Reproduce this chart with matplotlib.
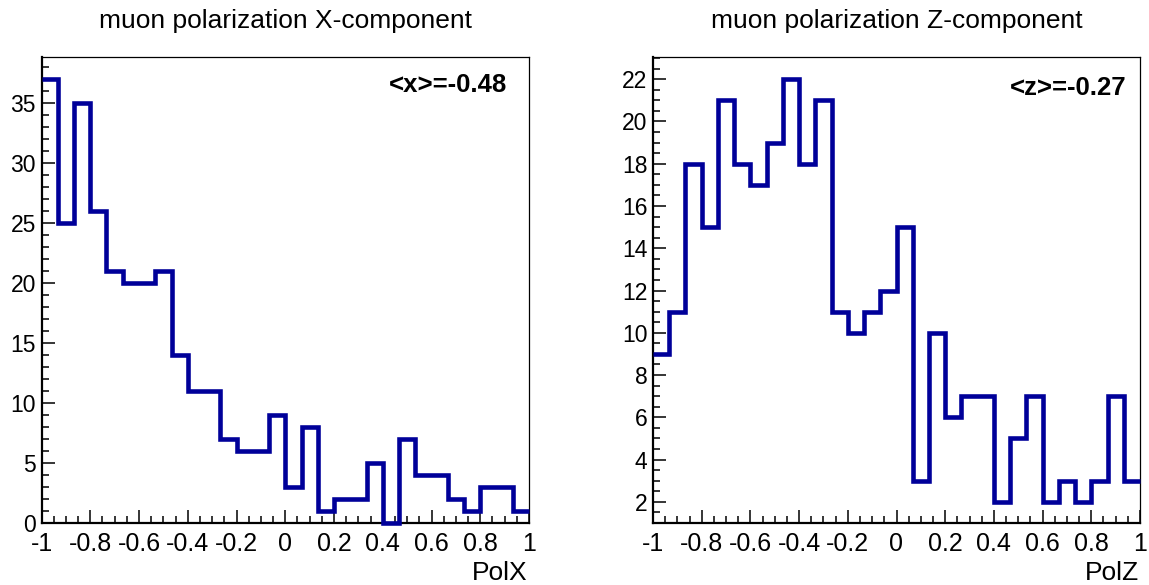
import numpy as np
import matplotlib
matplotlib.use("Agg")
import matplotlib.pyplot as plt
from matplotlib.ticker import MultipleLocator, FuncFormatter


# Histogram contents (30 bins from -1 to 1)
polx_counts = [37, 25, 35, 26, 21, 20, 20, 21, 14, 11, 11, 7, 6, 6, 9,
               3, 8, 1, 2, 2, 5, 0, 7, 4, 4, 2, 1, 3, 3, 1]
polz_counts = [9, 11, 18, 15, 21, 18, 17, 19, 22, 18, 21, 11, 10, 11, 12,
               15, 3, 10, 6, 7, 7, 2, 5, 7, 2, 3, 2, 3, 7, 3]
bin_edges = np.linspace(-1, 1, 31)

titles = ["muon polarization X-component", "muon polarization Z-component"]
axis_labels = ["PolX", "PolZ"]
stat_labels = ["<x>=-0.48", "<z>=-0.27"]


plt.rcParams['font.family'] = ['Liberation Sans', 'DejaVu Sans']
plt.rcParams['axes.unicode_minus'] = False

line_color = '#000099'


def fmt(v, pos):
    v = round(v, 3)
    if abs(v) < 1e-9:
        return "0"
    return f"{v:g}"


fig = plt.figure(figsize=(11.49, 5.85), dpi=100)
W, H = 1149, 585

# axes frames in pixel coords: left, right, top, bottom
frames = [(41.5, 529, 57, 523), (653, 1140, 57, 523)]
ylims = [(0, 38.85), (1, 23.05)]
ymajor = [5, 2]
yminor = [1, 0.5]
stat_pos = [(0.955, 0.94), (0.973, 0.933)]

for i, counts in enumerate([polx_counts, polz_counts]):
    l, r, t, b = frames[i]
    ax = fig.add_axes([l / W, (H - b) / H, (r - l) / W, (b - t) / H])

    ax.stairs(counts, bin_edges, baseline=None, color=line_color,
              linewidth=3.3, clip_on=False, zorder=3)

    ax.set_xlim(-1, 1)
    ax.set_ylim(*ylims[i])

    # ROOT-like axes: ticks inside, only on left and bottom
    ax.xaxis.set_major_locator(MultipleLocator(0.2))
    ax.xaxis.set_minor_locator(MultipleLocator(0.05))
    ax.yaxis.set_major_locator(MultipleLocator(ymajor[i]))
    ax.yaxis.set_minor_locator(MultipleLocator(yminor[i]))
    ax.xaxis.set_major_formatter(FuncFormatter(fmt))
    ax.yaxis.set_major_formatter(FuncFormatter(fmt))
    ax.tick_params(which='both', direction='in', top=False, right=False,
                   width=1.1)
    ax.tick_params(which='major', length=9.5)
    ax.tick_params(which='minor', length=5)
    ax.tick_params(axis='x', pad=6.5, labelsize=18)
    ax.tick_params(axis='y', pad=4, labelsize=16.5)

    ax.spines['left'].set_linewidth(1.6)
    ax.spines['bottom'].set_linewidth(1.6)
    ax.spines['top'].set_linewidth(0.9)
    ax.spines['right'].set_linewidth(0.9)

    # mean value box text
    ax.text(stat_pos[i][0], stat_pos[i][1], stat_labels[i], transform=ax.transAxes,
            ha='right', va='center', fontsize=18.5, fontweight='bold')

    # title and x axis label
    fig.text((l + r) / 2 / W, (H - 28) / H, titles[i], ha='center',
             va='baseline', fontsize=19)
    fig.text((r - 1) / W, (H - 580) / H, axis_labels[i], ha='right',
             va='baseline', fontsize=19)


plt.savefig('out.png', dpi=100)
